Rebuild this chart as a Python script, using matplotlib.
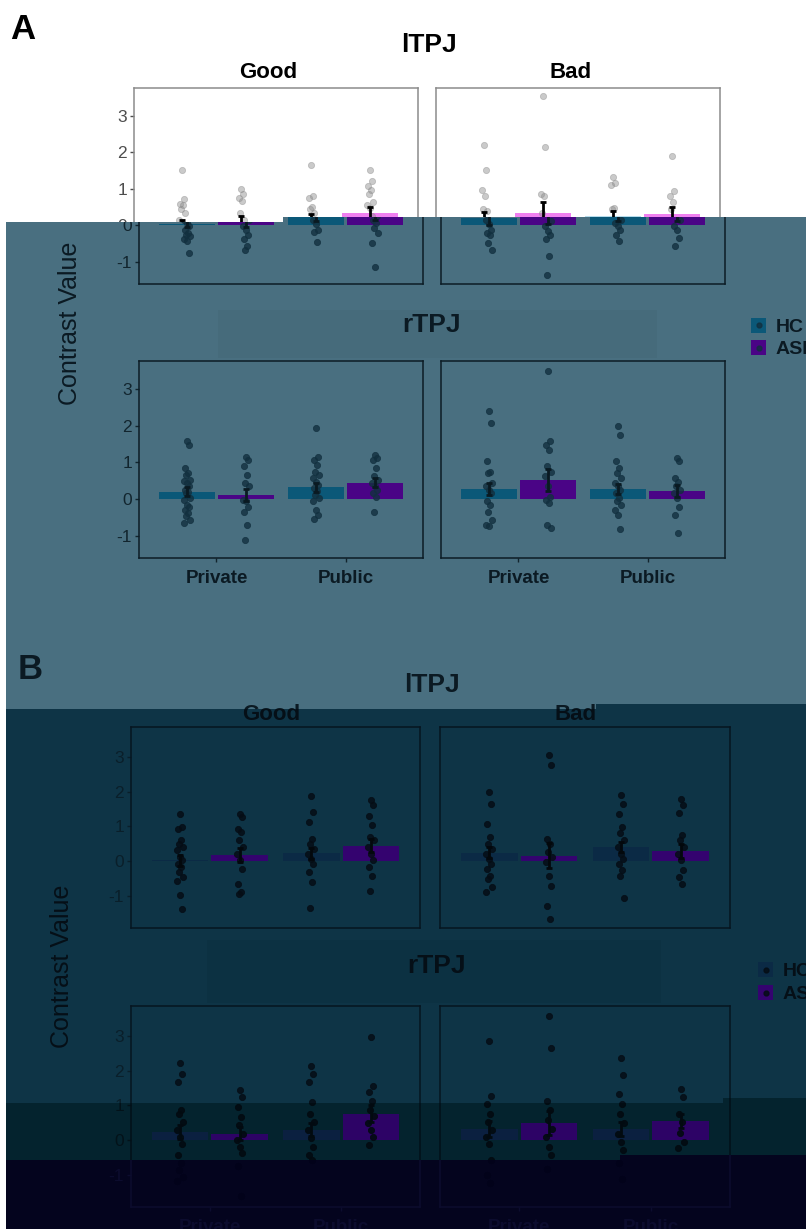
import matplotlib
matplotlib.use("Agg")
import matplotlib.pyplot as plt
from matplotlib.patches import Rectangle
from matplotlib.lines import Line2D
from matplotlib.text import Text
from matplotlib.transforms import Bbox, TransformedBbox
import numpy as np

W, H = 806, 1229

valence = ["Good", "Bad"]
contexts = ["Private", "Public"]
groups = ["HC", "ASD"]

# order inside each list: Good-Private, Good-Public, Bad-Private, Bad-Public
a_ltpj_hc_mean = [0.05, 0.22, 0.20, 0.26]
a_ltpj_asd_mean = [0.10, 0.33, 0.33, 0.31]
a_ltpj_hc_se = [0.10, 0.10, 0.18, 0.14]
a_ltpj_asd_se = [0.15, 0.18, 0.30, 0.19]
a_rtpj_hc_mean = [0.20, 0.32, 0.28, 0.27]
a_rtpj_asd_mean = [0.12, 0.45, 0.52, 0.22]
a_rtpj_hc_se = [0.12, 0.12, 0.16, 0.14]
a_rtpj_asd_se = [0.16, 0.12, 0.30, 0.16]
b_ltpj_hc_mean = [0.02, 0.22, 0.24, 0.40]
b_ltpj_asd_mean = [0.18, 0.45, 0.16, 0.30]
b_ltpj_hc_se = [0.15, 0.16, 0.16, 0.15]
b_ltpj_asd_se = [0.20, 0.20, 0.35, 0.20]
b_rtpj_hc_mean = [0.24, 0.30, 0.32, 0.32]
b_rtpj_asd_mean = [0.19, 0.76, 0.50, 0.55]
b_rtpj_hc_se = [0.20, 0.18, 0.22, 0.20]
b_rtpj_asd_se = [0.20, 0.25, 0.35, 0.20]

a_ltpj_hc_pts = [
    [1.53, 0.73, 0.6, 0.57, 0.44, 0.35, 0.16, 0.07, -0.02, -0.11, -0.2, -0.25, -0.29, -0.36, -0.43, -0.76],
    [1.65, 0.82, 0.74, 0.51, 0.45, 0.35, 0.16, 0.05, -0.11, -0.18, -0.45],
    [2.21, 1.53, 0.98, 0.8, 0.44, 0.39, 0.16, 0.03, -0.11, -0.2, -0.25, -0.47, -0.67],
    [1.33, 1.16, 1.12, 0.48, 0.44, 0.16, 0.07, -0.02, -0.11, -0.25, -0.43],
]
a_ltpj_asd_pts = [
    [1.0, 0.85, 0.75, 0.66, 0.35, 0.16, -0.02, -0.11, -0.25, -0.38, -0.55, -0.68],
    [1.53, 1.21, 1.07, 0.96, 0.85, 0.64, 0.55, 0.48, 0.25, 0.16, 0.07, -0.06, -0.2, -0.47, -1.14],
    [3.53, 2.14, 0.85, 0.8, 0.35, 0.12, -0.02, -0.15, -0.25, -0.38, -0.84, -1.36],
    [1.89, 0.94, 0.8, 0.64, 0.45, 0.16, -0.02, -0.11, -0.34, -0.56],
]
a_rtpj_hc_pts = [
    [1.57, 1.48, 0.85, 0.7, 0.65, 0.53, 0.5, 0.45, 0.35, 0.25, 0.2, 0.16, 0.03, -0.02, -0.15, -0.2, -0.3, -0.38, -0.47, -0.56, -0.64],
    [1.94, 1.16, 1.07, 0.94, 0.75, 0.66, 0.57, 0.48, 0.39, 0.3, 0.21, 0.12, 0.03, -0.06, -0.29, -0.43, -0.55],
    [2.39, 2.07, 1.03, 0.75, 0.71, 0.44, 0.35, 0.25, 0.16, -0.06, -0.15, -0.34, -0.56, -0.7, -0.74],
    [2.0, 1.75, 1.03, 0.85, 0.71, 0.57, 0.44, 0.35, 0.25, 0.16, 0.03, -0.06, -0.15, -0.29, -0.43, -0.82],
]
a_rtpj_asd_pts = [
    [1.14, 1.07, 0.89, 0.66, 0.44, 0.35, -0.02, -0.06, -0.2, -0.34, -0.7, -1.11],
    [1.2, 1.12, 1.07, 0.85, 0.62, 0.53, 0.44, 0.35, 0.25, 0.16, 0.07, -0.36],
    [3.48, 1.57, 1.48, 1.35, 0.89, 0.75, 0.62, 0.35, 0.07, -0.02, -0.11, -0.7, -0.79],
    [1.12, 1.05, 0.57, 0.48, 0.35, 0.25, 0.16, 0.03, -0.2, -0.43, -0.91],
]
b_ltpj_hc_pts = [
    [1.35, 0.99, 0.94, 0.6, 0.5, 0.4, 0.31, 0.12, 0.02, -0.08, -0.17, -0.32, -0.46, -0.56, -0.97, -1.38],
    [1.88, 1.42, 1.13, 0.65, 0.5, 0.36, 0.21, 0.07, -0.08, -0.32, -0.61, -1.34],
    [2.0, 1.66, 1.08, 0.7, 0.5, 0.36, 0.21, 0.07, -0.08, -0.22, -0.42, -0.51, -0.76, -0.9],
    [1.91, 1.66, 1.37, 0.99, 0.8, 0.6, 0.4, 0.21, 0.07, -0.08, -0.27, -0.42, -1.05],
]
b_ltpj_asd_pts = [
    [1.37, 1.28, 0.94, 0.84, 0.6, 0.4, 0.21, 0.02, -0.22, -0.66, -0.9, -0.95],
    [1.76, 1.62, 1.31, 1.05, 0.7, 0.6, 0.4, 0.21, 0.02, -0.17, -0.42, -0.87],
    [3.07, 2.78, 0.65, 0.5, 0.26, 0.12, -0.03, -0.42, -0.71, -1.29, -1.67],
    [1.78, 1.62, 1.4, 0.75, 0.6, 0.4, 0.21, 0.02, -0.27, -0.46, -0.66],
]
b_rtpj_hc_pts = [
    [2.23, 1.9, 1.67, 0.86, 0.76, 0.52, 0.29, 0.1, -0.1, -0.43, -0.67, -0.86, -1.05, -1.19],
    [2.14, 1.9, 1.67, 1.1, 0.76, 0.52, 0.29, 0.05, -0.19, -0.43, -0.57],
    [2.86, 1.26, 1.05, 0.76, 0.52, 0.29, 0.1, -0.1, -0.57, -1.0, -1.24],
    [2.36, 1.88, 1.33, 1.05, 0.76, 0.48, 0.19, -0.05, -0.29, -0.67, -1.12],
]
b_rtpj_asd_pts = [
    [1.46, 1.24, 0.95, 0.67, 0.43, 0.19, 0.0, -0.19, -0.38, -0.76, -1.62],
    [2.98, 1.57, 1.38, 1.14, 0.86, 0.71, 0.48, 0.29, 0.1, -0.14],
    [3.57, 2.65, 1.12, 0.86, 0.57, 0.33, 0.1, -0.19, -0.43, -0.84],
    [1.47, 1.24, 0.76, 0.52, 0.21, -0.05, -0.24],
]

BOLD = ["Liberation Sans Narrow", "Liberation Sans", "DejaVu Sans"]
REG = ["Liberation Sans", "DejaVu Sans"]
DODGE, BW = 0.227, 0.43
JIT = [0.0, 0.015, -0.015, 0.008, -0.008, 0.022, -0.022]

# layer styles: the picture is dimmed by several flat tinted bands
white = dict(bg="#ffffff", axbg="#ffffff", frame="#8c8c8c", text="#000000", tick="#4d4d4d",
             hc="#b5dcec", asd="#f080f0", pt="#8a8a8a", pt_a=0.45, err="#000000", strip="#ffffff")
steel = dict(bg="#496f80", axbg="#496f80", frame="#0c1c25", text="#0b1a23", tick="#12252e",
             hc="#0b5878", asd="#4a0486", pt="#12303f", pt_a=0.8, err="#0a1a22", strip="#466b7b")
teal = dict(bg="#0e3446", axbg="#0e3446", frame="#061520", text="#050f17", tick="#0a1f2a",
            hc="#0b2a45", asd="#34036f", pt="#050d15", pt_a=0.85, err="#03080c", strip="#0c3142")
band = dict(bg="#04232e", axbg="#04232e", frame="#021018", text="#020a10", tick="#031219",
            hc="#0b2040", asd="#2d0366", pt="#020a10", pt_a=0.9, err="#020a10", strip="#04232e")
navy = dict(bg="#04041e", axbg="#04041e", frame="#0c0c2e", text="#0c0c2e", tick="#0c0c2e",
            hc="#07072a", asd="#120436", pt="#02021a", pt_a=0.9, err="#02021a", strip="#04041e")

layers = [
    (white, (0, 0, 806, 217), -5), (white, (0, 217, 283, 222), -5),
    (steel, (6, 222, 283, 709), 0), (steel, (283, 217, 596, 709), 0), (steel, (596, 217, 806, 704), 0),
    (teal, (6, 709, 596, 1103), 0), (teal, (596, 704, 723, 1103), 0), (teal, (723, 704, 806, 1098), 0),
    (band, (6, 1103, 620, 1160), 0), (band, (620, 1103, 723, 1155), 0), (band, (723, 1098, 806, 1155), 0),
    (navy, (6, 1160, 620, 1229), 0), (navy, (620, 1155, 806, 1229), 0),
]

panels = [
    dict(letter="A", letter_xy=(15, 39), title_xy=(434, 52), good_xy=(273, 78), bad_xy=(576, 78),
         r_xy=(432, 332), strip=(218, 310, 657, 358), ylab_xy=(70, 323), leg_x=751, leg_y=(318, 340),
         axes=[(139, 88, 423, 284), (441, 88, 725, 284), (139, 361, 423, 558), (441, 361, 725, 558)],
         ylim=(-1.6, 3.76), shift=True,
         data=[(a_ltpj_hc_pts, a_ltpj_asd_pts, a_ltpj_hc_mean, a_ltpj_asd_mean, a_ltpj_hc_se, a_ltpj_asd_se),
               (a_rtpj_hc_pts, a_rtpj_asd_pts, a_rtpj_hc_mean, a_rtpj_asd_mean, a_rtpj_hc_se, a_rtpj_asd_se)]),
    dict(letter="B", letter_xy=(18, 679), title_xy=(432, 692), good_xy=(271, 720), bad_xy=(576, 720),
         r_xy=(437, 973), strip=(207, 940, 661, 1003), ylab_xy=(62, 966), leg_x=758, leg_y=(962, 985),
         axes=[(131, 727, 420, 928), (440, 727, 730, 928), (131, 1006, 420, 1207), (440, 1006, 730, 1207)],
         ylim=(-1.93, 3.87), shift=False,
         data=[(b_ltpj_hc_pts, b_ltpj_asd_pts, b_ltpj_hc_mean, b_ltpj_asd_mean, b_ltpj_hc_se, b_ltpj_asd_se),
               (b_rtpj_hc_pts, b_rtpj_asd_pts, b_rtpj_hc_mean, b_rtpj_asd_mean, b_rtpj_hc_se, b_rtpj_asd_se)]),
]

fig = plt.figure(figsize=(W / 100, H / 100), dpi=100)
fig.patch.set_facecolor("white")


def fxy(x, y):
    return x / W, 1 - y / H


def facet(box, dx, st, d, k, ylim, first_col, bottom_row):
    hc_pts, asd_pts, hc_m, asd_m, hc_se, asd_se = d
    x0, y0, x1, y1 = box
    ax = fig.add_axes([(x0 + dx) / W, 1 - y1 / H, (x1 - x0) / W, (y1 - y0) / H])
    ax.set_facecolor(st["axbg"])
    xs = np.array([1, 2])
    sl = slice(2 * k, 2 * k + 2)
    ax.bar(xs - DODGE, hc_m[sl], width=BW, color=st["hc"], zorder=1)
    ax.bar(xs + DODGE, asd_m[sl], width=BW, color=st["asd"], zorder=1)
    for j in range(2):
        for pts, off in ((hc_pts, -DODGE), (asd_pts, DODGE)):
            vals = pts[2 * k + j]
            jit = [JIT[i % len(JIT)] for i in range(len(vals))]
            ax.scatter(xs[j] + off + np.array(jit), vals, s=20, color=st["pt"], alpha=st["pt_a"],
                       edgecolors=st["pt"], linewidths=0.6, zorder=2)
    ax.errorbar(xs - DODGE, hc_m[sl], yerr=hc_se[sl], fmt="none", ecolor=st["err"],
                elinewidth=2, capsize=2.5, capthick=2, zorder=3)
    ax.errorbar(xs + DODGE, asd_m[sl], yerr=asd_se[sl], fmt="none", ecolor=st["err"],
                elinewidth=2, capsize=2.5, capthick=2, zorder=3)
    ax.set_xlim(0.4, 2.6)
    ax.set_ylim(*ylim)
    for s in ax.spines.values():
        s.set_color(st["frame"])
        s.set_linewidth(1.1)
    ax.set_yticks([-1, 0, 1, 2, 3], labels=["-1", "0", "1", "2", "3"], family=BOLD[0:1] + REG,
                  fontsize=12.5, color=st["tick"])
    ax.set_xticks([1, 2], labels=contexts, family=BOLD, fontweight="bold", fontsize=13.5,
                  color=st["text"])
    ax.tick_params(axis="y", length=3, width=1, color=st["tick"], pad=2, left=first_col,
                   labelleft=first_col)
    ax.tick_params(axis="x", length=3, width=1, color=st["tick"], pad=6, bottom=bottom_row,
                   labelbottom=bottom_row)
    ax.xaxis.get_major_ticks()
    ax.yaxis.get_major_ticks()
    return ax


def draw_layer(st, region, a_dx):
    x0, y0, x1, y1 = region
    clip = TransformedBbox(Bbox.from_extents(x0 / W, 1 - y1 / H, x1 / W, 1 - y0 / H), fig.transFigure)
    made = [fig.add_artist(Rectangle(fxy(x0, y1), (x1 - x0) / W, (y1 - y0) / H,
                                     transform=fig.transFigure, facecolor=st["bg"], lw=0, zorder=-10))]
    axes = []
    for p in panels:
        dx = a_dx if p["shift"] else 0
        made.append(fig.text(*fxy(p["letter_xy"][0] + dx, p["letter_xy"][1]), p["letter"],
                             fontsize=25, fontweight="bold", family=REG, color=st["text"],
                             ha="left", va="baseline"))
        made.append(fig.text(*fxy(p["title_xy"][0] + dx, p["title_xy"][1]), "lTPJ", fontsize=19,
                             fontweight="bold", family=REG, color=st["text"], ha="center", va="baseline"))
        for lab, xy in ((valence[0], p["good_xy"]), (valence[1], p["bad_xy"])):
            made.append(fig.text(*fxy(xy[0] + dx, xy[1]), lab, fontsize=16, fontweight="bold",
                                 family=REG, color=st["text"], ha="center", va="baseline"))
        sx0, sy0, sx1, sy1 = p["strip"]
        made.append(fig.add_artist(Rectangle(fxy(sx0 + dx, sy1), (sx1 - sx0) / W, (sy1 - sy0) / H,
                                             transform=fig.transFigure, facecolor=st["strip"],
                                             lw=0, zorder=-9)))
        made.append(fig.text(*fxy(p["r_xy"][0] + dx, p["r_xy"][1]), "rTPJ", fontsize=19,
                             fontweight="bold", family=REG, color=st["text"], ha="center", va="baseline"))
        made.append(fig.text(*fxy(p["ylab_xy"][0] + dx, p["ylab_xy"][1]), "Contrast Value",
                             fontsize=18, family=REG, color=st["text"], rotation=90,
                             ha="center", va="center"))
        for g, ly, col in ((groups[0], p["leg_y"][0], st["hc"]), (groups[1], p["leg_y"][1], st["asd"])):
            lx = p["leg_x"] + dx
            made.append(fig.add_artist(Rectangle(fxy(lx, ly + 15), 15 / W, 15 / H,
                                                 transform=fig.transFigure, facecolor=col, lw=0)))
            made.append(fig.add_artist(Line2D([(lx + 7.5) / W], [1 - (ly + 7.5) / H],
                                              transform=fig.transFigure, marker="o", ms=3.5,
                                              ls="none", color=st["pt"], alpha=st["pt_a"])))
            made.append(fig.text(*fxy(lx + 25, ly + 14), g, fontsize=14, fontweight="bold",
                                 family=BOLD, color=st["text"], ha="left", va="baseline"))
        for r in range(2):
            for k in range(2):
                axes.append(facet(p["axes"][2 * r + k], dx, st, p["data"][r], k, p["ylim"],
                                  k == 0, r == 1))
    for a in made:
        a.set_clip_box(clip)
        a.set_clip_on(True)
    for ax in axes:
        for a in ax.findobj():
            a.set_clip_box(clip)
            a.set_clip_on(True)


for st, region, a_dx in layers:
    draw_layer(st, region, a_dx)

# hide the copies of a text that fall wholly outside their own tinted band
fig.canvas.draw()
rend = fig.canvas.get_renderer()
for t in fig.findobj(Text):
    cb = t.get_clip_box()
    if cb is None or not t.get_visible() or not t.get_text():
        continue
    if not t.get_window_extent(rend).overlaps(cb):
        t.set_visible(False)

fig.savefig("out.png", dpi=100, facecolor=fig.get_facecolor())
